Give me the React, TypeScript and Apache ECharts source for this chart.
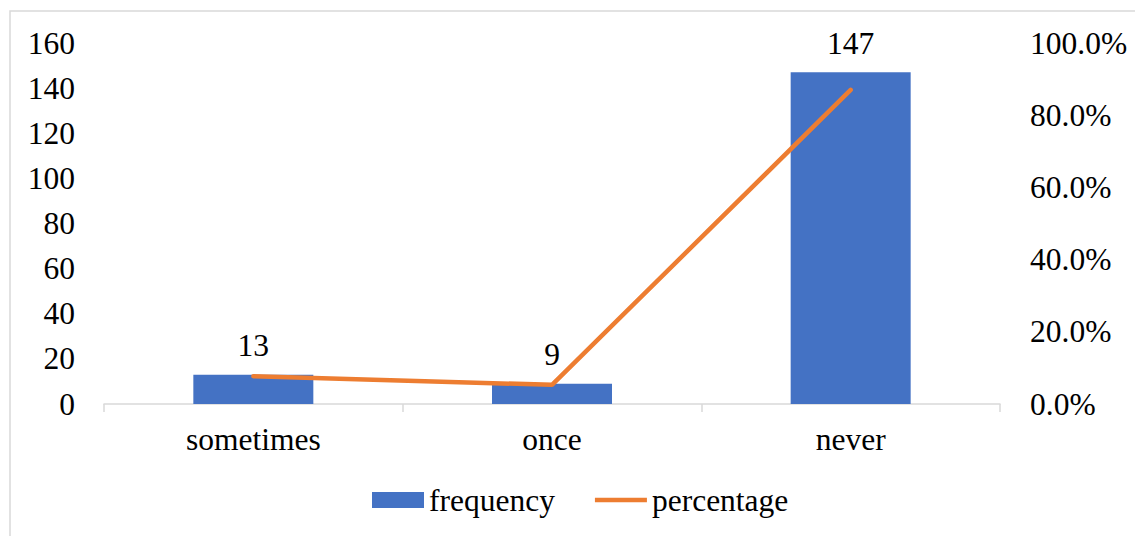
import React, { useEffect, useRef } from "react";
import * as echarts from "echarts";

const categories = ["sometimes", "once", "never"];
const frequency = [13, 9, 147];
const percentage = [7.7, 5.3, 87.0];
const leftTicks = { min: 0, max: 160, interval: 20 };
const rightTicks = { min: 0, max: 100, interval: 20 };

const FONT = "Times New Roman, Liberation Serif, Tinos, serif";
const FS = 31.5;

export default function App() {
  const ref = useRef<HTMLDivElement>(null);
  useEffect(() => {
    if (!ref.current) return;
    const chart = echarts.init(ref.current, null, { renderer: "svg" });
    chart.setOption({
      animation: false,
      backgroundColor: "#ffffff",
      textStyle: { fontFamily: FONT, color: "#000" },
      graphic: [
        {
          type: "rect",
          shape: { x: 10, y: 11, width: 1140, height: 540 },
          style: { fill: "none", stroke: "#D9D9D9", lineWidth: 1.5 },
          silent: true,
        },
      ],
      grid: { left: 104, right: 135, top: 43, bottom: 132 },
      legend: {
        bottom: 15,
        left: 367,
        itemWidth: 52,
        itemHeight: 16,
        itemGap: 40,
        textStyle: { fontFamily: FONT, fontSize: FS, color: "#000", padding: [0, 0, 0, 0] },
        data: [
          { name: "frequency", icon: "rect" },
          { name: "percentage", icon: "path://M0,0 L52,0 L52,4.5 L0,4.5 Z" },
        ],
      },
      xAxis: {
        type: "category",
        data: categories,
        axisLine: { lineStyle: { color: "#D9D9D9", width: 1.5 } },
        axisTick: { show: true, length: 8, lineStyle: { color: "#D9D9D9", width: 1.5 } },
        axisLabel: { fontFamily: FONT, fontSize: FS, color: "#000", margin: 19 },
      },
      yAxis: [
        {
          type: "value",
          min: leftTicks.min,
          max: leftTicks.max,
          interval: leftTicks.interval,
          splitLine: { show: false },
          axisLine: { show: false },
          axisTick: { show: false },
          axisLabel: { fontFamily: FONT, fontSize: FS, color: "#000", margin: 29 },
        },
        {
          type: "value",
          position: "right",
          min: rightTicks.min,
          max: rightTicks.max,
          interval: rightTicks.interval,
          splitLine: { show: false },
          axisLine: { show: false },
          axisTick: { show: false },
          axisLabel: {
            fontFamily: FONT,
            fontSize: FS,
            color: "#000",
            margin: 30,
            formatter: (v: number) => v.toFixed(1) + "%",
          },
        },
      ],
      series: [
        {
          name: "frequency",
          type: "bar",
          data: frequency,
          barWidth: 120,
          itemStyle: { color: "#4472C4" },
          label: {
            show: true,
            position: "top",
            distance: 13,
            fontFamily: FONT,
            fontSize: FS,
            color: "#000",
          },
        },
        {
          name: "percentage",
          type: "line",
          yAxisIndex: 1,
          data: percentage,
          symbol: "none",
          lineStyle: { color: "#ED7D31", width: 4.5, cap: "round" },
          itemStyle: { color: "#ED7D31" },
        },
      ],
    });
    return () => chart.dispose();
  }, []);
  return (
    <div
      ref={ref}
      style={{ position: "absolute", left: 0, top: 0, width: 1135, height: 536 }}
    />
  );
}
